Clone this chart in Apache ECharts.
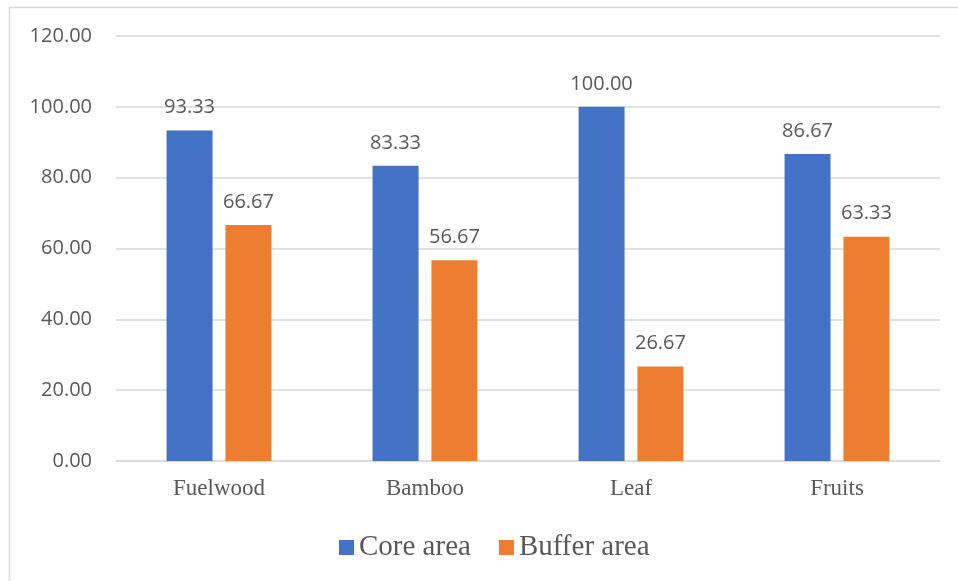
<!DOCTYPE html>
<html>
<head>
<meta charset="utf-8">
<script src="https://cdn.jsdelivr.net/npm/echarts@6/dist/echarts.min.js"></script>
<style>
  html, body { margin: 0; padding: 0; background: #fff; }
  #chart { width: 958px; height: 581px; }
</style>
</head>
<body>
<div id="chart"></div>
<script>
// Product categories collected
const categories = ['Fuelwood', 'Bamboo', 'Leaf', 'Fruits'];
// Percentage of households, by zone
const coreArea = [93.33, 83.33, 100.00, 86.67];
const bufferArea = [66.67, 56.67, 26.67, 63.33];
const seriesNames = ['Core area', 'Buffer area'];

const textGray = '#595959';
const gridGray = '#D9D9D9';

const chart = echarts.init(document.getElementById('chart'));

const barLabel = {
  show: true,
  position: 'top',
  distance: 13,
  color: textGray,
  fontFamily: 'Open Sans',
  fontSize: 20,
  formatter: p => p.value.toFixed(2)
};

chart.setOption({
  animation: false,
  backgroundColor: '#fff',
  graphic: [{
    type: 'rect',
    shape: { x: 9.5, y: 7.5, width: 1200, height: 1200 },
    style: { fill: 'none', stroke: gridGray, lineWidth: 1.5 },
    silent: true
  }],
  grid: { left: 116, right: 18, top: 36, bottom: 120 },
  legend: {
    data: seriesNames,
    left: 334,
    top: 528,
    icon: 'rect',
    itemWidth: 15,
    itemHeight: 15,
    itemGap: 28,
    textStyle: { color: textGray, fontFamily: 'Liberation Serif', fontSize: 29 }
  },
  xAxis: {
    type: 'category',
    data: categories,
    axisLine: { show: true, lineStyle: { color: gridGray, width: 1.5 } },
    axisTick: { show: false },
    axisLabel: { color: textGray, fontFamily: 'Liberation Serif', fontSize: 23, margin: 16 }
  },
  yAxis: {
    type: 'value',
    min: 0,
    max: 120,
    interval: 20,
    axisLine: { show: false },
    axisTick: { show: false },
    splitLine: { lineStyle: { color: gridGray, width: 1.5 } },
    axisLabel: {
      color: textGray,
      fontFamily: 'Open Sans',
      fontSize: 20,
      margin: 24,
      formatter: v => v.toFixed(2)
    }
  },
  series: [
    {
      name: seriesNames[0],
      type: 'bar',
      data: coreArea,
      barWidth: 46,
      barGap: '28%',
      itemStyle: { color: '#4472C4' },
      label: barLabel
    },
    {
      name: seriesNames[1],
      type: 'bar',
      data: bufferArea,
      barWidth: 46,
      barGap: '28%',
      itemStyle: { color: '#ED7D31' },
      label: barLabel
    }
  ]
});
</script>
</body>
</html>
